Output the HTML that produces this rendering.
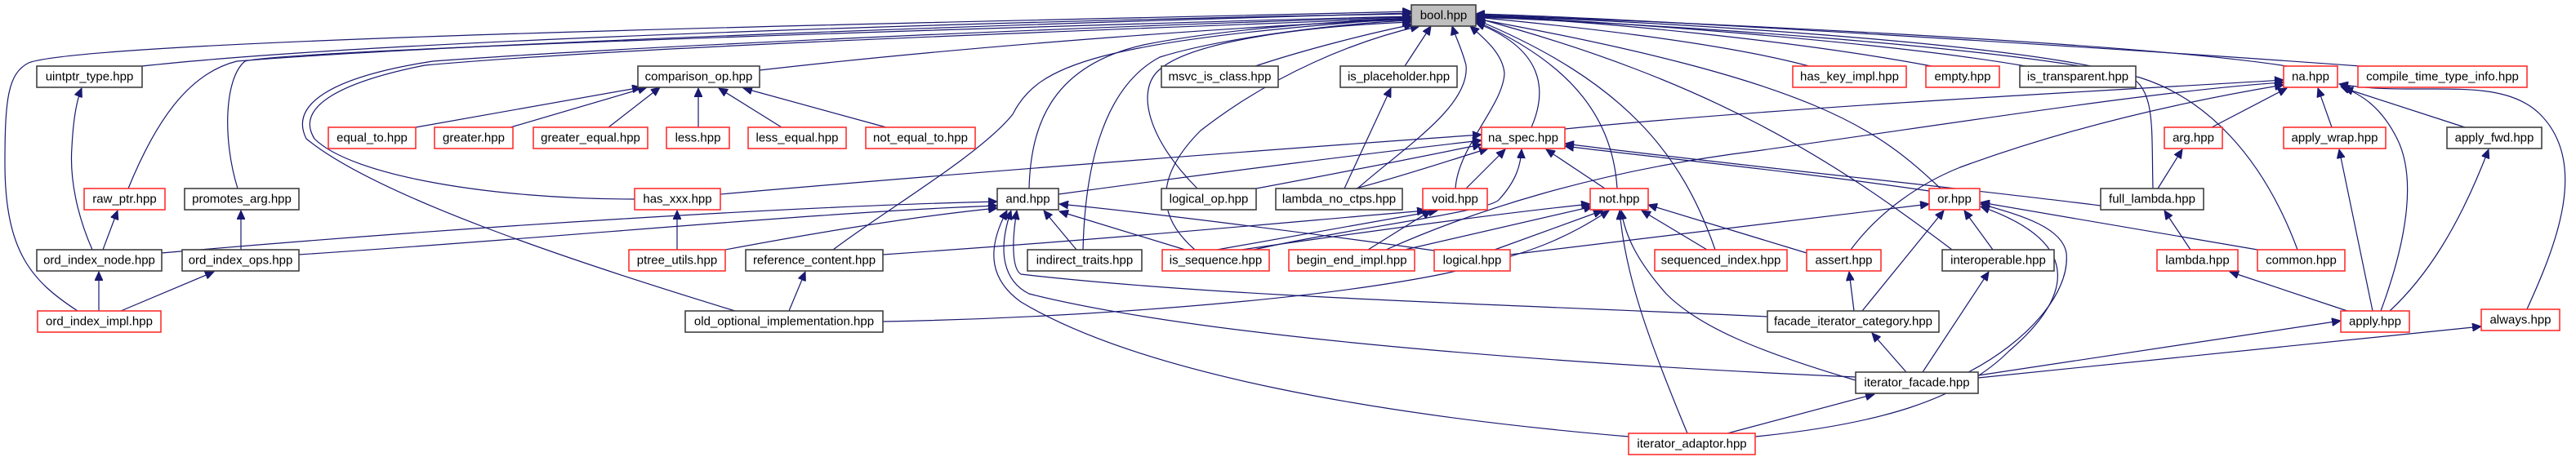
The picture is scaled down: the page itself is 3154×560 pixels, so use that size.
<!DOCTYPE html>
<html><head><meta charset="utf-8"><style>
html,body{margin:0;padding:0;background:#fff;}
svg{display:block;}
text{font-family:"Liberation Sans",Arial,sans-serif;font-size:15px;fill:#000;text-anchor:middle;dominant-baseline:central;}
.b{fill:#fff;stroke:#404040;stroke-width:1.6;}
.r{fill:#fff;stroke:#ff3030;stroke-width:1.6;}
.g{fill:#bfbfbf;stroke:#404040;stroke-width:1.6;}
path{fill:none;stroke:#191970;stroke-width:1.2;marker-end:url(#ah);}
</style></head><body>
<svg width="3154" height="560" viewBox="0 0 3154 560" xmlns="http://www.w3.org/2000/svg">
<defs><marker id="ah" markerUnits="userSpaceOnUse" markerWidth="12" markerHeight="10" refX="11" refY="5" orient="auto"><polygon points="0,0 11,5 0,10" fill="#191970" stroke="#191970"/></marker></defs>
<g>
<path d="M174,81 C500,45 1400,22 1728,17"/>
<path d="M95,381 C40,345 6,310 6,200 C6,120 10,90 35,77 C120,45 1300,25 1728,14"/>
<path d="M157,231 C190,150 230,90 290,75 C600,50 1400,25 1728,16"/>
<path d="M291,231 C272,170 275,95 300,75 C350,60 1400,28 1728,20"/>
<path d="M930,86 C1200,55 1550,30 1728,24"/>
<path d="M777,244 C600,244 430,215 385,170 C360,130 420,100 520,80 C800,55 1400,35 1728,22"/>
<path d="M900,381 C700,320 460,240 375,170 C355,130 400,95 530,75 C800,55 1400,30 1728,21"/>
<path d="M1020,306 C1080,260 1200,190 1240,140 C1270,80 1340,50 1728,22"/>
<path d="M1260,231 C1262,150 1290,80 1400,55 C1500,35 1650,25 1728,23"/>
<path d="M1326,306 C1328,220 1345,110 1420,70 C1500,45 1650,28 1728,25"/>
<path d="M1466,231 C1405,170 1390,110 1420,85 C1460,50 1600,32 1728,27"/>
<path d="M1537,81 C1600,60 1680,40 1730,30"/>
<path d="M1463,306 C1410,260 1420,210 1470,160 C1560,90 1660,50 1738,32"/>
<path d="M1720,81 L1752,32"/>
<path d="M1662,231 C1720,180 1800,130 1795,80 C1790,60 1782,45 1778,32"/>
<path d="M1782,231 C1785,180 1840,130 1842,90 C1840,65 1815,45 1800,32"/>
<path d="M1875,156 C1895,110 1890,60 1807,28"/>
<path d="M1980,231 C1975,150 1930,80 1807,26"/>
<path d="M2100,306 C2060,190 1990,100 1807,24"/>
<path d="M2376,231 C2300,160 2230,100 1807,23"/>
<path d="M2390,306 C2250,200 2100,100 1807,22"/>
<path d="M2215,81 C2100,50 1900,30 1807,21"/>
<path d="M2365,81 C2200,50 1950,25 1807,20"/>
<path d="M2480,81 C2300,50 1950,25 1807,19"/>
<path d="M2800,81 C2600,50 2000,25 1807,18"/>
<path d="M2890,81 C2600,60 2000,22 1807,17"/>
<path d="M2636,231 C2634,150 2640,105 2600,90 C2450,50 2000,25 1807,19"/>
<path d="M2813,306 C2770,190 2700,120 2620,95 C2450,55 2000,28 1807,21"/>
<path d="M113,306 C95,265 85,220 88,180 C90,140 95,120 100,108"/>
<path d="M126,306 L144,258"/>
<path d="M295,306 L295,258"/>
<path d="M121,381 L121,333"/>
<path d="M148,381 L262,333"/>
<path d="M509,156 L785,107"/>
<path d="M625,156 L792,107"/>
<path d="M745,156 L808,107"/>
<path d="M855,156 L855,108"/>
<path d="M957,156 L880,108"/>
<path d="M1085,156 L910,108"/>
<path d="M829,306 L829,258"/>
<path d="M198,310 C600,275 1000,252 1221,247"/>
<path d="M366,312 C700,290 1000,260 1221,252"/>
<path d="M888,306 C1000,285 1120,265 1221,255"/>
<path d="M882,238 C1200,210 1600,180 1814,165"/>
<path d="M1296,238 C1500,210 1700,185 1814,172"/>
<path d="M1538,231 C1650,210 1750,190 1814,177"/>
<path d="M1660,231 C1720,215 1780,195 1822,182"/>
<path d="M1646,231 L1703,108"/>
<path d="M1795,231 L1843,183"/>
<path d="M1965,231 L1893,183"/>
<path d="M1535,306 C1650,280 1820,260 1835,245 C1858,220 1862,200 1863,183"/>
<path d="M2572,252 C2400,230 2100,200 1916,176"/>
<path d="M2362,234 C2200,210 2000,190 1916,179"/>
<path d="M1916,158 C2200,130 2600,110 2796,98"/>
<path d="M1697,306 C1800,260 1950,210 2150,185 C2400,150 2650,110 2796,101"/>
<path d="M2266,306 C2300,260 2350,225 2400,205 C2550,150 2700,120 2796,104"/>
<path d="M2708,156 L2800,108"/>
<path d="M2855,156 L2838,108"/>
<path d="M3018,156 L2870,108"/>
<path d="M2915,381 C2945,300 2960,220 2935,170 C2915,130 2890,115 2866,106"/>
<path d="M3093,381 C3130,300 3170,200 3110,140 C3060,90 2960,120 2864,103"/>
<path d="M2642,231 L2672,183"/>
<path d="M2682,306 L2650,258"/>
<path d="M2874,381 L2730,333"/>
<path d="M2905,381 L2864,183"/>
<path d="M2926,381 C2970,340 3010,280 3047,183"/>
<path d="M2422,460 L2866,393"/>
<path d="M2422,463 L3038,400"/>
<path d="M2164,388 C1900,375 1500,365 1250,336 C1240,330 1238,300 1245,258"/>
<path d="M2272,462 C2000,450 1500,420 1260,360 C1230,345 1220,310 1238,258"/>
<path d="M1994,535 C1700,510 1400,460 1250,370 C1215,345 1205,310 1233,258"/>
<path d="M1318,306 L1278,258"/>
<path d="M1451,306 L1297,259"/>
<path d="M1756,307 C1600,285 1400,260 1297,250"/>
<path d="M1490,306 L1760,258"/>
<path d="M1675,306 L1752,258"/>
<path d="M1081,312 C1400,290 1600,270 1746,258"/>
<path d="M1520,306 C1700,280 1850,260 1947,250"/>
<path d="M1720,306 L1950,253"/>
<path d="M1830,306 L1962,258"/>
<path d="M2090,306 L2010,258"/>
<path d="M2212,310 L2018,251"/>
<path d="M1081,394 C1300,390 1600,370 1770,335 C1880,310 1920,290 1970,258"/>
<path d="M2272,466 C2150,430 2080,400 2040,360 C2005,320 1990,290 1985,258"/>
<path d="M2066,531 C2020,420 1990,340 1983,258"/>
<path d="M1849,312 L2362,250"/>
<path d="M2280,381 L2380,258"/>
<path d="M2440,306 L2405,258"/>
<path d="M2410,456 C2480,420 2535,360 2530,310 C2525,280 2480,265 2425,250"/>
<path d="M2149,535 C2300,520 2400,490 2460,430 C2530,370 2560,300 2425,253"/>
<path d="M2764,306 L2425,248"/>
<path d="M2270,381 L2264,333"/>
<path d="M2334,456 L2292,408"/>
<path d="M2354,456 L2435,333"/>
<path d="M2115,531 L2295,483"/>
<path d="M966,381 L986,333"/>
</g>
<g>
<rect class="g" x="1728" y="6" width="79" height="26"/><text x="1767.5" y="19">bool.hpp</text>
<rect class="b" x="45" y="81" width="129" height="26"/><text x="109.5" y="94">uintptr_type.hpp</text>
<rect class="b" x="781" y="81" width="149" height="26"/><text x="855.5" y="94">comparison_op.hpp</text>
<rect class="b" x="1422" y="81" width="143" height="26"/><text x="1493.5" y="94">msvc_is_class.hpp</text>
<rect class="b" x="1641" y="81" width="143" height="26"/><text x="1712.5" y="94">is_placeholder.hpp</text>
<rect class="r" x="2195" y="81" width="139" height="26"/><text x="2264.5" y="94">has_key_impl.hpp</text>
<rect class="r" x="2358" y="81" width="90" height="26"/><text x="2403" y="94">empty.hpp</text>
<rect class="b" x="2473" y="81" width="142" height="26"/><text x="2544" y="94">is_transparent.hpp</text>
<rect class="r" x="2796" y="81" width="66" height="26"/><text x="2829" y="94">na.hpp</text>
<rect class="r" x="2887" y="81" width="207" height="26"/><text x="2990.5" y="94">compile_time_type_info.hpp</text>
<rect class="r" x="402" y="156" width="107" height="26"/><text x="455.5" y="169">equal_to.hpp</text>
<rect class="r" x="532" y="156" width="96" height="26"/><text x="580" y="169">greater.hpp</text>
<rect class="r" x="653" y="156" width="140" height="26"/><text x="723" y="169">greater_equal.hpp</text>
<rect class="r" x="816" y="156" width="77" height="26"/><text x="854.5" y="169">less.hpp</text>
<rect class="r" x="916" y="156" width="120" height="26"/><text x="976" y="169">less_equal.hpp</text>
<rect class="r" x="1060" y="156" width="134" height="26"/><text x="1127" y="169">not_equal_to.hpp</text>
<rect class="r" x="1814" y="156" width="102" height="26"/><text x="1865" y="169">na_spec.hpp</text>
<rect class="r" x="2650" y="156" width="71" height="26"/><text x="2685.5" y="169">arg.hpp</text>
<rect class="r" x="2796" y="156" width="125" height="26"/><text x="2858.5" y="169">apply_wrap.hpp</text>
<rect class="b" x="2996" y="156" width="116" height="26"/><text x="3054" y="169">apply_fwd.hpp</text>
<rect class="r" x="103" y="231" width="99" height="26"/><text x="152.5" y="244">raw_ptr.hpp</text>
<rect class="b" x="226" y="231" width="140" height="26"/><text x="296" y="244">promotes_arg.hpp</text>
<rect class="r" x="777" y="231" width="105" height="26"/><text x="829.5" y="244">has_xxx.hpp</text>
<rect class="b" x="1221" y="231" width="75" height="26"/><text x="1258.5" y="244">and.hpp</text>
<rect class="b" x="1422" y="231" width="116" height="26"/><text x="1480" y="244">logical_op.hpp</text>
<rect class="b" x="1562" y="231" width="155" height="26"/><text x="1639.5" y="244">lambda_no_ctps.hpp</text>
<rect class="r" x="1742" y="231" width="79" height="26"/><text x="1781.5" y="244">void.hpp</text>
<rect class="r" x="1947" y="231" width="71" height="26"/><text x="1982.5" y="244">not.hpp</text>
<rect class="r" x="2362" y="231" width="62" height="26"/><text x="2393" y="244">or.hpp</text>
<rect class="b" x="2572" y="231" width="126" height="26"/><text x="2635" y="244">full_lambda.hpp</text>
<rect class="b" x="45" y="306" width="153" height="26"/><text x="121.5" y="319">ord_index_node.hpp</text>
<rect class="b" x="223" y="306" width="143" height="26"/><text x="294.5" y="319">ord_index_ops.hpp</text>
<rect class="r" x="770" y="306" width="118" height="26"/><text x="829" y="319">ptree_utils.hpp</text>
<rect class="b" x="913" y="306" width="168" height="26"/><text x="997" y="319">reference_content.hpp</text>
<rect class="b" x="1258" y="306" width="140" height="26"/><text x="1328" y="319">indirect_traits.hpp</text>
<rect class="r" x="1423" y="306" width="131" height="26"/><text x="1488.5" y="319">is_sequence.hpp</text>
<rect class="r" x="1578" y="306" width="154" height="26"/><text x="1655" y="319">begin_end_impl.hpp</text>
<rect class="r" x="1756" y="306" width="93" height="26"/><text x="1802.5" y="319">logical.hpp</text>
<rect class="r" x="2026" y="306" width="162" height="26"/><text x="2107" y="319">sequenced_index.hpp</text>
<rect class="r" x="2212" y="306" width="91" height="26"/><text x="2257.5" y="319">assert.hpp</text>
<rect class="b" x="2378" y="306" width="137" height="26"/><text x="2446.5" y="319">interoperable.hpp</text>
<rect class="r" x="2641" y="306" width="99" height="26"/><text x="2690.5" y="319">lambda.hpp</text>
<rect class="r" x="2764" y="306" width="107" height="26"/><text x="2817.5" y="319">common.hpp</text>
<rect class="r" x="46" y="381" width="151" height="26"/><text x="121.5" y="394">ord_index_impl.hpp</text>
<rect class="b" x="839" y="381" width="242" height="26"/><text x="960" y="394">old_optional_implementation.hpp</text>
<rect class="b" x="2164" y="381" width="210" height="26"/><text x="2269" y="394">facade_iterator_category.hpp</text>
<rect class="r" x="2866" y="381" width="84" height="26"/><text x="2908" y="394">apply.hpp</text>
<rect class="r" x="3038" y="379" width="96" height="26"/><text x="3086" y="392">always.hpp</text>
<rect class="b" x="2272" y="456" width="150" height="26"/><text x="2347" y="469">iterator_facade.hpp</text>
<rect class="r" x="1994" y="531" width="155" height="26"/><text x="2071.5" y="544">iterator_adaptor.hpp</text>
</g>
</svg>
</body></html>
